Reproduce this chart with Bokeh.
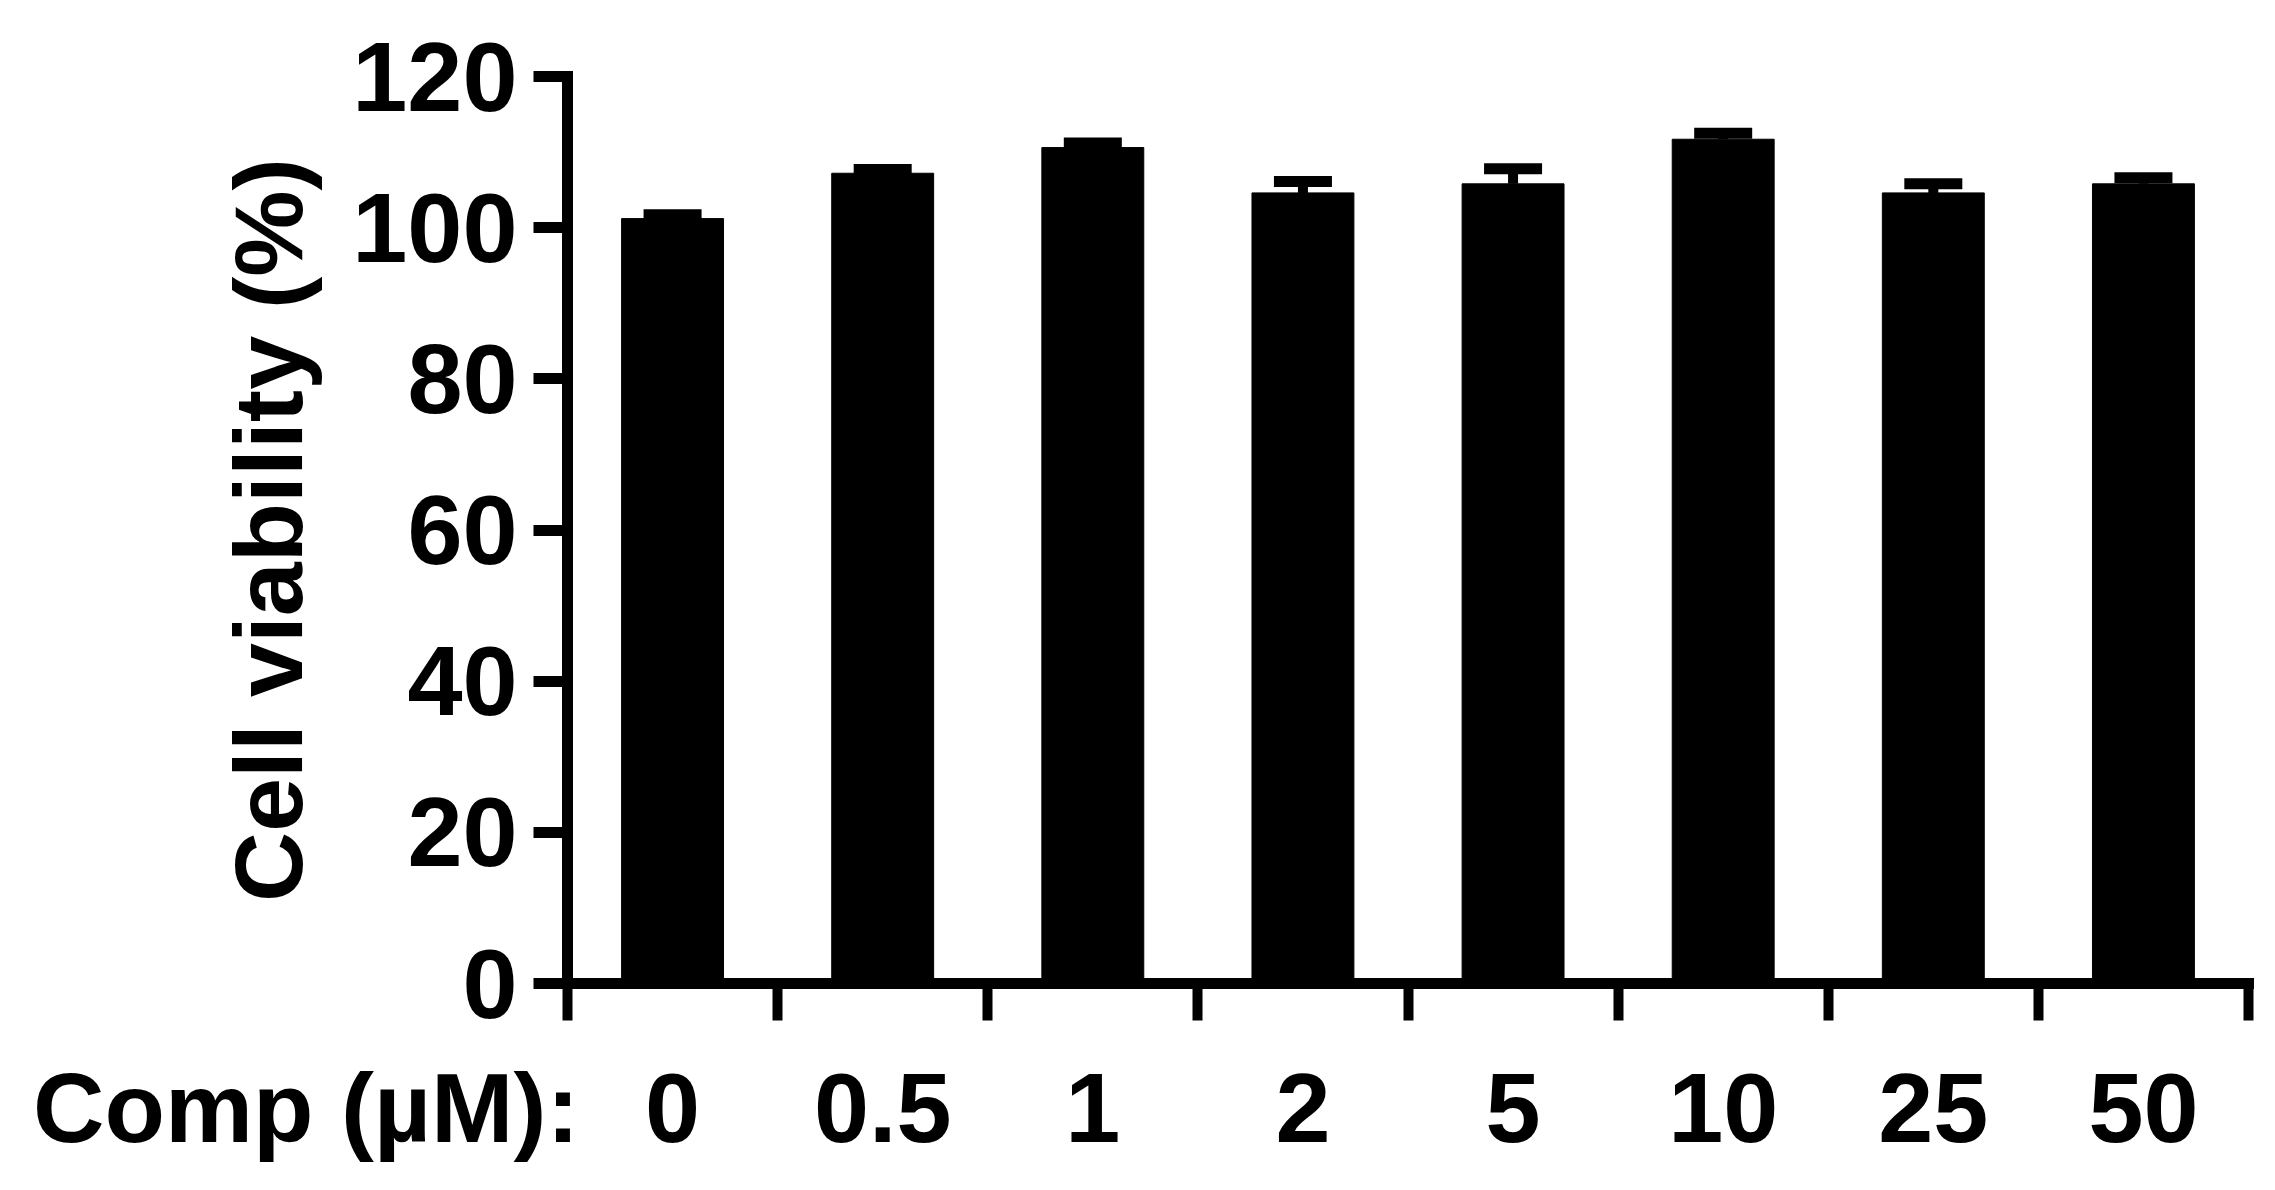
from bokeh.plotting import figure
from bokeh.models import ColumnDataSource, Whisker, TeeHead, FixedTicker, Range1d
from bokeh.embed import file_html
from bokeh.resources import INLINE

# ---- data ----
categories = ["0", "0.5", "1", "2", "5", "10", "25", "50"]
viability = [101.2, 107.2, 110.6, 104.6, 105.8, 111.7, 104.6, 105.8]
sem = [0.5, 0.5, 0.6, 1.5, 2.0, 0.8, 1.2, 0.8]
y_ticks = [0, 20, 40, 60, 80, 100, 120]
y_label = "Cell viability (%)"
x_label = "Comp (µM):"

FONT = "Liberation Sans"

n = len(categories)
xs = [i + 0.5 for i in range(n)]
upper = [v + s for v, s in zip(viability, sem)]
src = ColumnDataSource(dict(x=xs, top=viability, upper=upper))

p = figure(width=2267, height=1180,
           x_range=Range1d(0, n), y_range=Range1d(y_ticks[0], y_ticks[-1]),
           output_backend="svg", toolbar_location=None,
           min_border_left=567, min_border_right=19,
           min_border_top=76, min_border_bottom=197)
p.outline_line_color = None
p.xgrid.visible = False
p.ygrid.visible = False
p.background_fill_color = "white"
p.border_fill_color = "white"

p.vbar(x="x", top="top", bottom=0, width=0.485, source=src,
       fill_color="black", line_color="black", line_width=1)

w = Whisker(base="x", upper="upper", lower="top", source=src,
            line_color="black", line_width=10,
            upper_head=TeeHead(size=58, line_width=11, line_color="black"),
            lower_head=None)
p.add_layout(w)

# x axis: labels at bar centres, ticks at category boundaries (minor ticks);
# the row title "Comp (µM):" sits on the row of tick labels, right-aligned at the y axis
NBSP = "\u00a0"
xa = p.xaxis[0]
xa.ticker = FixedTicker(ticks=[0] + xs, minor_ticks=list(range(n + 1)))
overrides = {x: c for x, c in zip(xs, categories)}
overrides[0] = x_label + NBSP * 19
xa.major_label_overrides = overrides
xa.major_tick_out = 0
xa.major_tick_in = 0
xa.minor_tick_out = 37
xa.minor_tick_in = 0
xa.minor_tick_line_width = 10
xa.minor_tick_line_color = "black"
xa.axis_line_width = 11
xa.axis_line_color = "black"
xa.axis_line_cap = "square"
xa.major_label_text_font = FONT
xa.major_label_text_font_style = "bold"
xa.major_label_text_font_size = "99px"
xa.major_label_text_color = "black"
xa.major_label_standoff = 31

ya = p.yaxis[0]
ya.ticker = FixedTicker(ticks=y_ticks, minor_ticks=[])
ya.major_tick_out = 34
ya.major_tick_in = 0
ya.major_tick_line_width = 11
ya.major_tick_line_color = "black"
ya.minor_tick_out = 0
ya.minor_tick_in = 0
ya.axis_line_width = 11
ya.axis_line_color = "black"
ya.axis_line_cap = "square"
ya.major_label_text_font = FONT
ya.major_label_text_font_style = "bold"
ya.major_label_text_font_size = "99px"
ya.major_label_text_color = "black"
ya.major_label_standoff = 16
ya.axis_label = y_label
ya.axis_label_text_font = FONT
ya.axis_label_text_font_style = "bold"
ya.axis_label_text_font_size = "97px"
ya.axis_label_text_color = "black"
ya.axis_label_standoff = 26

open("out.html", "w").write(file_html(p, INLINE))
